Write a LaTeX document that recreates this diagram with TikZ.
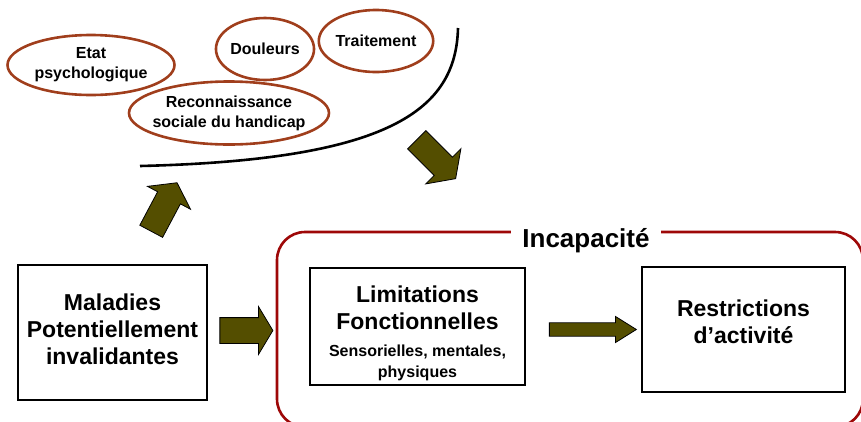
\documentclass[tikz,border=0pt]{standalone}
\usepackage{fontspec}
\setmainfont{Liberation Sans}
\usepackage{tikz}
\usetikzlibrary{shapes.geometric}
\usetikzlibrary{shapes.arrows}
\usetikzlibrary{positioning}
\definecolor{rouille}{RGB}{160,62,28}
\definecolor{bordeaux}{RGB}{158,8,8}
\definecolor{kaki}{RGB}{84,78,0}
\tikzstyle{every node}+=[inner sep=0pt]
\tikzstyle{bulle} = [ellipse, draw=rouille, line width=2.6pt, align=center, font=\bfseries\fontsize{16}{20}\selectfont]
\tikzstyle{block} = [rectangle, draw, line width=2.4pt, align=center, font=\bfseries\fontsize{23}{27}\selectfont]
\tikzstyle{fleche} = [single arrow, draw=black, fill=kaki, line width=0.8pt, inner xsep=0pt, single arrow tip angle=110]
\tikzstyle{cadre} = [draw=bordeaux, line width=2.6pt, rounded corners=28pt]
\newcommand{\petit}{\fontsize{16}{20}\selectfont}

\begin{document}
\begin{tikzpicture}[x=1pt, y=-1pt]
            \clip (0,0) rectangle (861,421);
            % Place nodes
            \node [bulle, minimum width=167pt, minimum height=60pt] (etat) at (91,65) {Etat\\psychologique};
            \node [bulle, minimum width=97pt, minimum height=62pt] (dol) at (265,49) {Douleurs};
            \node [bulle, minimum width=114pt, minimum height=62pt] (trait) at (376,41) {Traitement};
            \node [bulle, minimum width=200pt, minimum height=63pt, inner xsep=-8pt] (reco) at (229,113) {Reconnaissance\\sociale du handicap};
            \node [block, minimum width=189pt, minimum height=135pt] (mal) at (112.5,332.5) {Maladies\\Potentiellement\\invalidantes\\[-21pt]};
            \node [block, minimum width=215pt, minimum height=117pt] (lim) at (417.5,326.5) {\rule{0pt}{30pt}Limitations\\Fonctionnelles\\[0pt]{\petit Sensorielles, mentales,}\\[-6pt]{\petit physiques}};
            \node [block, minimum width=203pt, minimum height=125pt] (restr) at (743.5,329.5) {Restrictions\\d'activité\\[-12pt]};
            % Incapacite frame
            \draw [cadre] (277,232) rectangle (863,427);
            \node [fill=white, inner xsep=11pt, inner ysep=3pt, font=\bfseries\fontsize{26}{30}\selectfont] (incap) at (586,241) {Incapacité};
            % Black curve
            \draw [line width=2.6pt] (140,166) .. controls (390,160) and (456,110) .. (458,28);
            % Draw arrows
            \node [fleche, rotate=62, minimum height=55pt, inner ysep=12.5pt, single arrow head extend=11.5pt] (up) at (162,211) {};
            \node [fleche, rotate=-45, minimum height=55pt, inner ysep=12.5pt, single arrow head extend=12pt] (down) at (433,156) {};
            \node [fleche, minimum height=53pt, inner ysep=12.5pt, single arrow head extend=11pt, single arrow tip angle=118] (a1) at (242.5,330.5) {};
            \node [fleche, minimum height=87pt, inner ysep=6.3pt, single arrow head extend=6.3pt, single arrow tip angle=64] (a2) at (587.5,329.5) {};
\end{tikzpicture}
\end{document}
